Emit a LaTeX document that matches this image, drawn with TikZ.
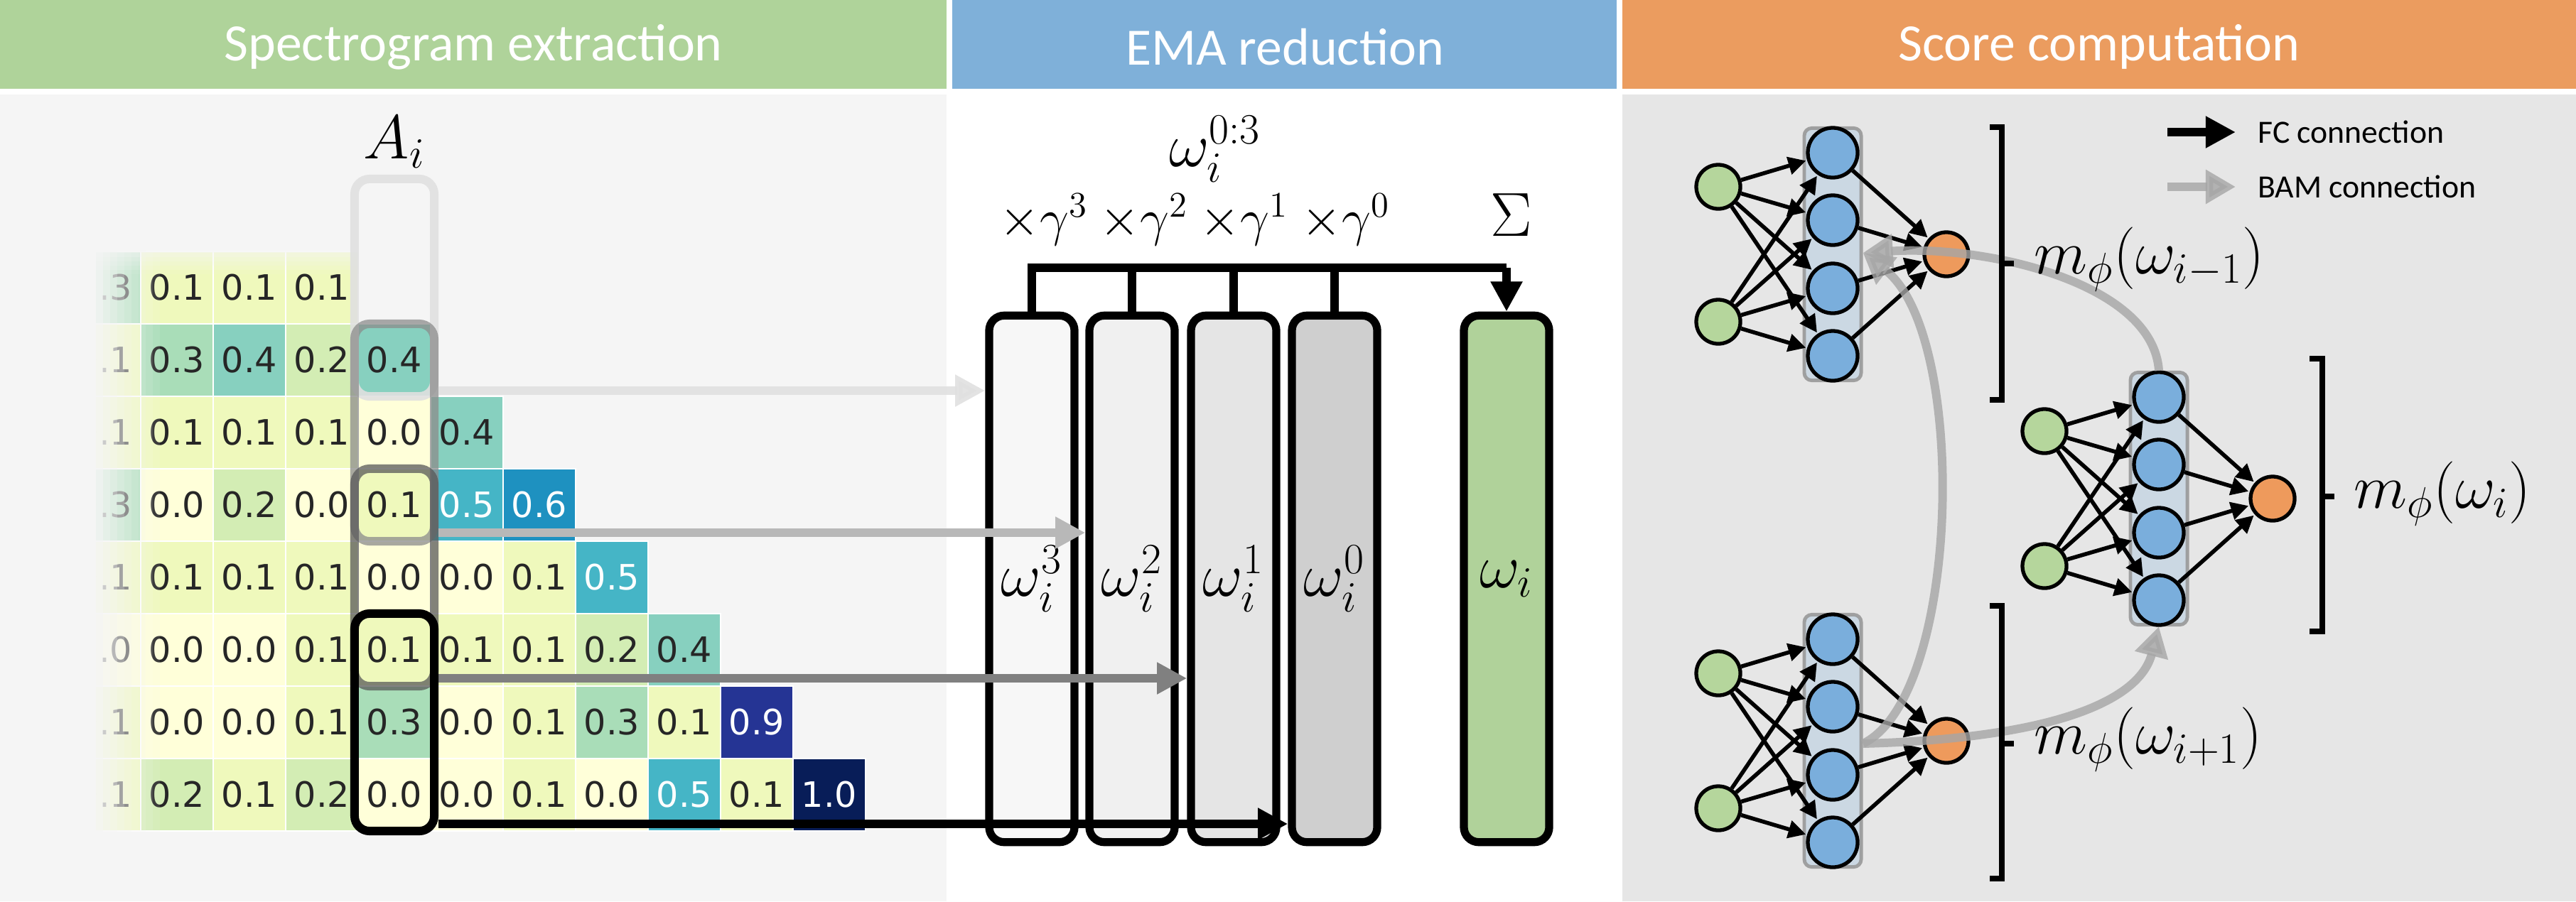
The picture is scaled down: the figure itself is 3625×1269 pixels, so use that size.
\documentclass[tikz,border=0pt]{standalone}
\usepackage{fontspec}
\setmainfont{Carlito}
\newfontfamily\dejavu{DejaVu Sans}
\usetikzlibrary{arrows.meta}
\definecolor{hgreen}{HTML}{AFD39A}
\definecolor{hblue}{HTML}{7FB0D9}
\definecolor{horange}{HTML}{EB9C5F}
\definecolor{lbg}{HTML}{F5F5F5}
\definecolor{rbg}{HTML}{E6E6E6}
\definecolor{v0}{HTML}{FFFFD9}
\definecolor{v1}{HTML}{EFF9BC}
\definecolor{v2}{HTML}{D3EDB4}
\definecolor{v3}{HTML}{A9DDB8}
\definecolor{v4}{HTML}{87D0BF}
\definecolor{v5}{HTML}{45B5C6}
\definecolor{v6}{HTML}{1E91C0}
\definecolor{v9}{HTML}{253494}
\definecolor{v10}{HTML}{081D58}
\definecolor{ngreen}{HTML}{B5D69C}
\definecolor{nblue}{HTML}{7AAEDC}
\definecolor{norange}{HTML}{EE9A5C}
\definecolor{egreen}{HTML}{B0D29A}
\definecolor{colbg}{HTML}{C9D7E3}
\newcommand\mynet[3]{%
  \node[hid] (#1r) at (#2,#3) {};
  \node[inp] (#1i1) at (#2-161,#3-95) {};
  \node[inp] (#1i2) at (#2-161,#3+95) {};
  \foreach \k/\d in {1/-143,2/-48,3/48,4/143} {\node[hn] (#1h\k) at (#2,#3+\d) {};}
  \node[outn] (#1o) at (#2+160,#3) {};
  \foreach \a in {1,2} {\foreach \b in {1,...,4} {\draw[fc] (#1i\a) -- (#1h\b);}}
  \foreach \b in {1,...,4} {\draw[fc] (#1h\b) -- (#1o);}
}
\begin{document}
\begin{tikzpicture}[x=0.01cm,y=-0.01cm,
  hdr/.style={font=\fontsize{21}{24}\selectfont,text=white},
  cell/.style={minimum width=1.02cm,minimum height=1.02cm,inner sep=0pt,draw=white,line width=0.6pt,font=\dejavu\fontsize{14}{16}\selectfont},
  win/.style={draw,rounded corners=6pt,line width=3.4pt,minimum width=1.12cm,minimum height=3.06cm,inner sep=0pt},
  band/.style={line width=3.4pt,-{Triangle[length=12pt,width=12pt]}},
  ema/.style={draw=black,line width=3.2pt,rounded corners=6pt,minimum width=1.2cm,minimum height=7.41cm,inner sep=0pt,font=\fontsize{27}{30}\selectfont},
  ml/.style={font=\fontsize{26}{30}\selectfont},
  gl/.style={font=\fontsize{20}{24}\selectfont},
  hid/.style={draw=gray!80,fill=colbg,line width=1.4pt,rounded corners=3pt,minimum width=0.8cm,minimum height=3.55cm,inner sep=0pt,opacity=0.9},
  inp/.style={circle,draw,fill=ngreen,line width=1.5pt,minimum size=0.62cm,inner sep=0pt},
  hn/.style={circle,draw,fill=nblue,line width=1.5pt,minimum size=0.7cm,inner sep=0pt},
  outn/.style={circle,draw,fill=norange,line width=1.5pt,minimum size=0.62cm,inner sep=0pt},
  fc/.style={line width=1.6pt,-{Triangle[length=7pt,width=7pt]},shorten >=0.5pt},
  bam/.style={draw=gray!70,line width=3.4pt,opacity=0.8,-{Triangle[length=12pt,width=13pt]}},
  brk/.style={line width=2.4pt},
]
\useasboundingbox (0,0) rectangle (3625,1269);
% panels
\fill[lbg] (0,133) rectangle (1332,1269);
\fill[rbg] (2283,133) rectangle (3625,1269);
\fill[hgreen] (0,0) rectangle (1332,125);
\fill[hblue] (1340,0) rectangle (2275,125);
\fill[horange] (2283,0) rectangle (3625,125);
\node[hdr] (h1) at (666,66) {Spectrogram extraction};
\node[hdr] (h2) at (1808,66) {EMA reduction};
\node[hdr] (h3) at (2954,66) {Score computation};
% heatmap
\foreach \r/\vals in {0/{3,1,1,1},1/{1,3,4,2,4},2/{1,1,1,1,0,4},3/{3,0,2,0,1,5,6},4/{1,1,1,1,0,0,1,5},5/{0,0,0,1,1,1,1,2,4},6/{1,0,0,1,3,0,1,3,1,9},7/{1,2,1,2,0,0,1,0,5,1,10}} {
  \foreach \v [count=\c from 0] in \vals {
    \ifnum\v>4 \def\tc{white}\else\def\tc{black!85}\fi
    \ifnum\v=10 \def\tx{1.0}\else\def\tx{0.\v}\fi
    \node[cell,fill=v\v,text=\tc] (c\r-\c) at (147+102*\c,405+102*\r) {\tx};
  }
}
% left fade
\fill[lbg] (90,350) rectangle (125,1175);
\foreach \i in {0,...,9} {
  \pgfmathsetmacro\op{1-\i/10}
  \fill[lbg,opacity=\op] (125+10*\i,350) rectangle (135+10*\i,1175);
}
\foreach \i in {0,...,5} {
  \pgfmathsetmacro\op{0.7-\i/8}
  \fill[lbg,opacity=\op] (90,350+6*\i) rectangle (506,356+6*\i);
}
\node[font=\fontsize{24}{28}\selectfont] (Ai) at (555,200) {$A_i$};
% windows
\node[win,draw=black!12,opacity=0.9] (w3) at (555,405) {};
\node[win,draw=black!45,opacity=0.75] (w2) at (555,609) {};
\node[win,draw=black!65,opacity=0.75] (w1) at (555,813) {};
% EMA boxes
\node[ema,fill=black!3] (e3) at (1452,815) {$\omega_i^3$};
\node[ema,fill=black!6] (e2) at (1593,815) {$\omega_i^2$};
\node[ema,fill=black!10] (e1) at (1736,815) {$\omega_i^1$};
\node[ema,fill=black!19] (e0) at (1878,815) {$\omega_i^0$};
\node[ema,fill=egreen] (g) at (2120,815) {$\omega_i$};
% arrows from windows
\draw[band,draw=black!12,opacity=0.9] (w3.east |- 0,550) -- (e3.west |- 0,550);
\draw[band,draw=black!28] (w2.east |- 0,750) -- (e2.west |- 0,750);
\draw[band,draw=black!50] (w1.east |- 0,955) -- (e1.west |- 0,955);
\node[win,draw=black] (w0) at (555,1017) {};
\draw[band,draw=black] (w0.east |- 0,1160) -- (e0.west |- 0,1160);
% bus
\coordinate (bl) at (1452,377);
\coordinate (br) at (2120,377);
\draw[line width=3.2pt] (e3.north) -- (bl) -- (br);
\draw[band] (br) -- (g.north);
\foreach \e in {e2,e1,e0} {\draw[line width=3.2pt] (\e.north) -- (\e.north |- bl);}
\node[gl] (m3) at (1469,309) {$\times\gamma^3$};
\node[gl] (m2) at (1610,309) {$\times\gamma^2$};
\node[gl] (m1) at (1751,309) {$\times\gamma^1$};
\node[gl] (m0) at (1894,309) {$\times\gamma^0$};
\node[font=\fontsize{24}{28}\selectfont] (sig) at (2127,303) {$\Sigma$};
\node[font=\fontsize{25}{28}\selectfont] (wall) at (1710,210) {$\omega_i^{0:3}$};
% networks
\mynet{T}{2579}{358}
\mynet{M}{3038}{702}
\mynet{B}{2579}{1043}
% BAM curves
\draw[bam] (Mr.north) .. controls (3030,400) and (2800,345) .. (Tr.east |- 0,356);
\draw[bam] (Br.east |- 0,1047) .. controls (2760,980) and (2770,470) .. (Tr.east |- 0,356);
\draw[bam] (Br.east |- 0,1047) .. controls (2880,1040) and (3010,990) .. (Mr.south);
% brackets
\draw[brk] (2800,179) -- (2817,179) -- (2817,563) -- (2800,563);
\draw[brk] (2817,371) -- (2834,371);
\node[ml,anchor=west] (lT) at (2850,365) {$m_\phi(\omega_{i-1})$};
\draw[brk] (3250,505) -- (3268,505) -- (3268,889) -- (3250,889);
\draw[brk] (3268,699) -- (3285,699);
\node[ml,anchor=west] (lM) at (3300,695) {$m_\phi(\omega_{i})$};
\draw[brk] (2800,853) -- (2817,853) -- (2817,1237) -- (2800,1237);
\draw[brk] (2817,1047) -- (2834,1047);
\node[ml,anchor=west] (lB) at (2850,1041) {$m_\phi(\omega_{i+1})$};
% legend
\coordinate (l1a) at (3050,186);
\coordinate (l1b) at (3146,186);
\coordinate (l2a) at (3050,263);
\coordinate (l2b) at (3146,263);
\draw[line width=3.4pt,-{Triangle[length=12pt,width=12pt]}] (l1a) -- (l1b);
\draw[bam] (l2a) -- (l2b);
\node[anchor=west,font=\fontsize{13}{15}\selectfont] (t1) at (3165,186) {FC connection};
\node[anchor=west,font=\fontsize{13}{15}\selectfont] (t2) at (3165,263) {BAM connection};
\end{tikzpicture}
\end{document}
